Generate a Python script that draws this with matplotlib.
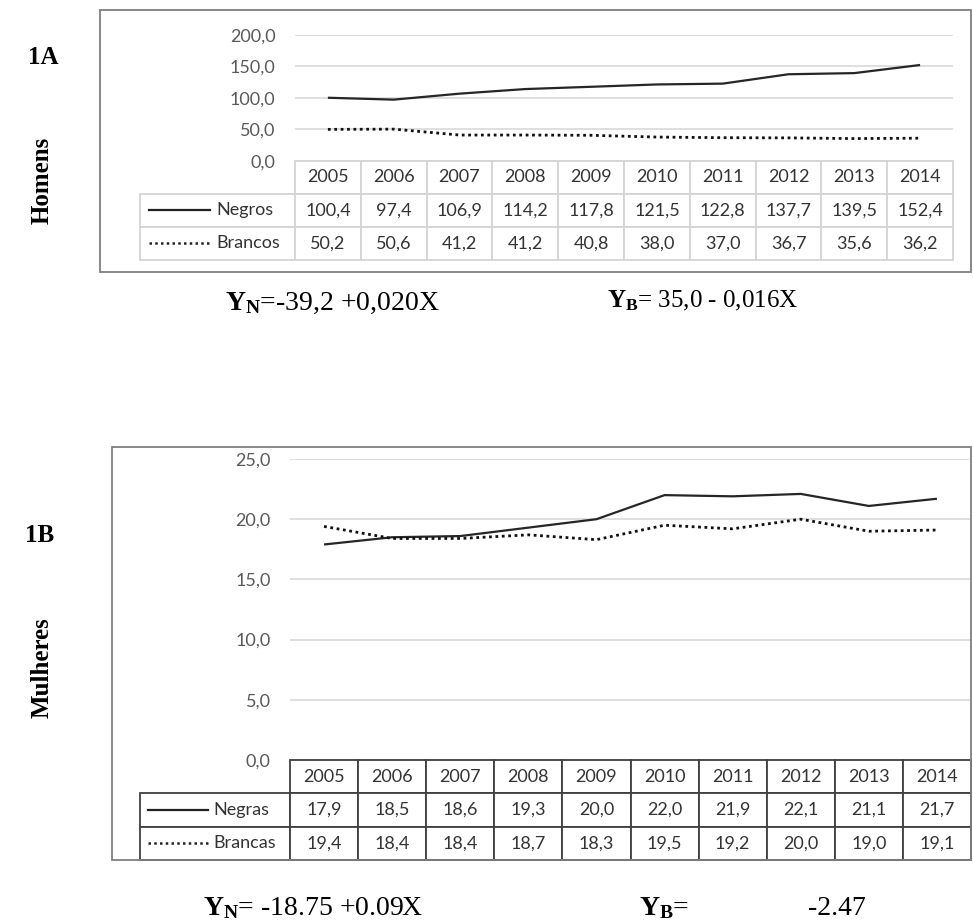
import matplotlib
matplotlib.use("Agg")
from matplotlib import pyplot as plt
from matplotlib.patches import Rectangle

# dados
anos = [2005, 2006, 2007, 2008, 2009, 2010, 2011, 2012, 2013, 2014]
homens_negros = [100.4, 97.4, 106.9, 114.2, 117.8, 121.5, 122.8, 137.7, 139.5, 152.4]
homens_brancos = [50.2, 50.6, 41.2, 41.2, 40.8, 38.0, 37.0, 36.7, 35.6, 36.2]
mulheres_negras = [17.9, 18.5, 18.6, 19.3, 20.0, 22.0, 21.9, 22.1, 21.1, 21.7]
mulheres_brancas = [19.4, 18.4, 18.4, 18.7, 18.3, 19.5, 19.2, 20.0, 19.0, 19.1]
ticks_homens = [0, 50, 100, 150, 200]
ticks_mulheres = [0, 5, 10, 15, 20, 25]

W, H = 973, 922
plt.rcParams['mathtext.fontset'] = 'custom'
plt.rcParams['mathtext.rm'] = 'Liberation Serif'
plt.rcParams['mathtext.bf'] = 'Liberation Serif:bold'

fig = plt.figure(figsize=(W / 100, H / 100), dpi=100)


def box(x0, y0, x1, y1):
    return [x0 / W, 1 - y1 / H, (x1 - x0) / W, (y1 - y0) / H]


def virgula(v):
    return f"{v:.1f}".replace('.', ',')


def painel(plot_px, tab_px, label_px, s1, s2, nomes, ticks, edge):
    x0, y0, x1, y1 = plot_px
    ax = fig.add_axes(box(x0, y0, x1, y1))
    idx = list(range(len(anos)))
    ax.plot(idx, s1, color='#262626', lw=1.6, solid_capstyle='butt')
    ax.plot(idx, s2, color='#111111', lw=2.0, ls=(0, (1, 1.3)))
    ax.set_xlim(-0.5, len(anos) - 0.5)
    ax.set_ylim(ticks[0], ticks[-1])
    ax.set_yticks(ticks)
    ax.set_yticklabels([virgula(t) for t in ticks], fontsize=13, family='Lato', color='#595959')
    ax.tick_params(axis='y', length=0, pad=14)
    ax.set_xticks([])
    ax.grid(axis='y', color='#d9d9d9', lw=1.2)
    ax.set_axisbelow(True)
    for s in ax.spines.values():
        s.set_visible(False)

    # tabela de dados
    tx0, ty0, tx1, ty1 = tab_px
    axt = fig.add_axes(box(tx0, ty0, tx1, ty1))
    axt.set_xlim(0, 1)
    axt.set_ylim(0, 1)
    axt.axis('off')
    lw = (label_px) / (tx1 - tx0)
    cw = (1 - lw) / len(anos)
    linhas = [[''] + [virgula(v) for v in s1], [''] + [virgula(v) for v in s2]]
    tab = axt.table(cellText=linhas, colLabels=[''] + [str(a) for a in anos],
                    colWidths=[lw] + [cw] * len(anos), bbox=[0, 0, 1, 1], cellLoc='center')
    tab.auto_set_font_size(False)
    tab.set_fontsize(13)
    for (r, c), cell in tab.get_celld().items():
        cell.set_edgecolor(edge)
        cell.set_linewidth(1.3)
        cell.get_text().set_fontfamily('Lato')
        cell.get_text().set_color('#333333')
    tab[0, 0].visible_edges = ''
    # legenda dentro da tabela
    for i, (nome, estilo) in enumerate(zip(nomes, ['-', (0, (1, 1.3))])):
        yc = (2 - i) / 3 - 1 / 6
        axt.plot([0.055 * lw, 0.45 * lw], [yc, yc], color='#222222', lw=1.6 if i == 0 else 1.8, ls=estilo)
        axt.text(0.49 * lw, yc, nome, ha='left', va='center', fontsize=13, family='Lato', color='#333333')
    return ax


serif = dict(family='Liberation Serif', va='center')

# painel 1A
fig.patches.append(Rectangle((100 / W, 1 - 272 / H), 871 / W, 262 / H, transform=fig.transFigure,
                             fill=False, edgecolor='#7f7f7f', lw=1.3))
painel((295, 35, 953, 161), (140, 161, 953, 260), 155, homens_negros, homens_brancos,
       ['Negros', 'Brancos'], ticks_homens, '#d4d4d4')
fig.text(28 / W, 1 - 57 / H, '1A', fontsize=18, weight='bold', **serif)
fig.text(42 / W, 1 - 180 / H, 'Homens', fontsize=18, weight='bold', rotation=90, ha='center', **serif)
fig.text(225 / W, 1 - 303 / H, r'$\mathbf{Y_N}$=-39,2 +0,020X', fontsize=20, **serif)
fig.text(607 / W, 1 - 301 / H, r'$\mathbf{Y_B}$= 35,0 - 0,016X', fontsize=18, **serif)

# painel 1B
fig.patches.append(Rectangle((112 / W, 1 - 860 / H), 859 / W, 413 / H, transform=fig.transFigure,
                             fill=False, edgecolor='#7f7f7f', lw=1.3))
painel((290, 459, 971, 760), (140, 760, 971, 860), 150, mulheres_negras, mulheres_brancas,
       ['Negras', 'Brancas'], ticks_mulheres, '#404040')
fig.text(25 / W, 1 - 535 / H, '1B', fontsize=18, weight='bold', **serif)
fig.text(42 / W, 1 - 668 / H, 'Mulheres', fontsize=18, weight='bold', rotation=90, ha='center', **serif)
fig.text(203 / W, 1 - 908 / H, r'$\mathbf{Y_N}$= -18.75 +0.09X', fontsize=20, **serif)
fig.text(639 / W, 1 - 908 / H, r'$\mathbf{Y_B}$=', fontsize=20, **serif)
fig.text(808 / W, 1 - 908 / H, '-2.47', fontsize=20, **serif)

plt.savefig('out.png', dpi=100)
